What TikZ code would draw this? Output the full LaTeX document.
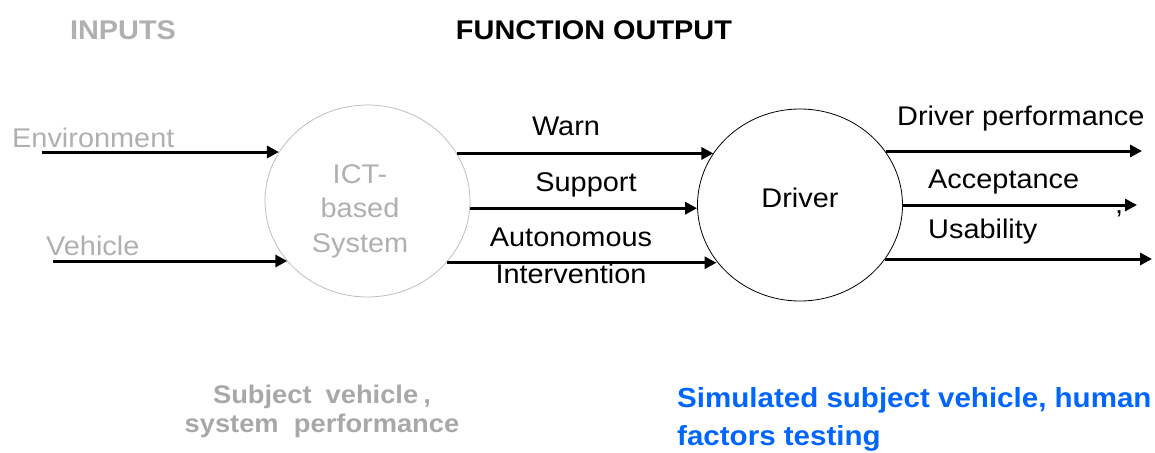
\documentclass[tikz,border=0pt]{standalone}
\usepackage{fontspec}
\setmainfont{Liberation Sans}[FakeStretch=1.07]
\usetikzlibrary{shapes.geometric,arrows.meta}
\definecolor{inputgray}{RGB}{176,176,176}
\definecolor{ringgray}{RGB}{190,190,190}
\definecolor{notegray}{RGB}{168,168,168}
\definecolor{simblue}{RGB}{0,102,255}
\tikzset{
  body/.style={font=\fontsize{27}{34.5}\selectfont, inner sep=0pt},
  heading/.style={font=\fontsize{27}{32}\selectfont\bfseries, inner sep=0pt, anchor=base},
  flow/.style={line width=3pt, -{Triangle[length=12pt,width=12pt]}},
  unit/.style={ellipse, minimum width=205pt, minimum height=192pt, inner sep=0pt, align=center},
}
\begin{document}
\begin{tikzpicture}[x=1pt,y=-1pt]
\useasboundingbox (0,0) rectangle (1155,452);

% headings
\node[heading, text=inputgray] (hin) at (123,40) {INPUTS};
\node[heading] (hout) at (594,40) {FUNCTION OUTPUT};

% the two processing units
\node[unit, draw=ringgray, line width=0.8pt] (ict) at (367.5,201) {};
\node[body, text=inputgray, align=center, anchor=base] (ictname) at (360,252) {ICT-\\based\\System};
\node[unit, draw=black, line width=0.8pt, body, text depth=15pt, text height=19pt] (drv) at (800,205) {Driver};

% free ends of the input and output lines
\coordinate (envs) at (42,152);
\coordinate (vehs) at (53,261);
\coordinate (perfe) at (1142,151);
\coordinate (acce) at (1137,205);
\coordinate (usee) at (1152,259);

% inputs
\draw[flow] (envs) -- (ict.151 |- envs);
\draw[flow] (vehs) -- (ict.217 |- vehs);

% functions
\draw[flow] (ict.28.4) -- (drv.149 |- ict.28.4);
\draw[flow] (ict.356.6) -- (drv.181 |- ict.356.6);
\draw[flow] (ict.322.4) -- (drv.214.5 |- ict.322.4);

% outputs
\draw[flow] (drv.32.4 |- perfe) -- (perfe);
\draw[flow] (drv.0 |- acce) -- (acce);
\draw[flow] (drv.327.6 |- usee) -- (usee);

% line labels
\node[body, text=inputgray, anchor=base west] (lenv) at (12,147) {Environment};
\node[body, text=inputgray, anchor=base west] (lveh) at (46,255) {Vehicle};
\node[body, anchor=base] (lwarn) at (566,135) {Warn};
\node[body, anchor=base] (lsup) at (586,191) {Support};
\node[body, anchor=base] (laut) at (571,246) {Autonomous};
\node[body, anchor=base] (lint) at (571,283) {Intervention};
\node[body, anchor=base west] (lperf) at (897,125) {Driver performance};
\node[body, anchor=base west] (lacc) at (928,188) {Acceptance};
\node[body, anchor=base west] (lcomma) at (1115,213) {,};
\node[body, anchor=base west] (luse) at (928,238) {Usability};

% notes under the diagram
\node[font=\fontsize{25.5}{29}\selectfont\bfseries, text=notegray, inner sep=0pt, align=center, anchor=base] (nsub) at (322,432)
  {Subject\hspace{0.55em}vehicle\hspace{0.2em},\\system\hspace{0.6em}performance};
\node[font=\fontsize{27.6}{38}\selectfont\bfseries, text=simblue, inner sep=0pt, align=left, anchor=base west] (nsim) at (677,445)
  {Simulated subject vehicle, human\\factors testing};
\end{tikzpicture}
\end{document}
